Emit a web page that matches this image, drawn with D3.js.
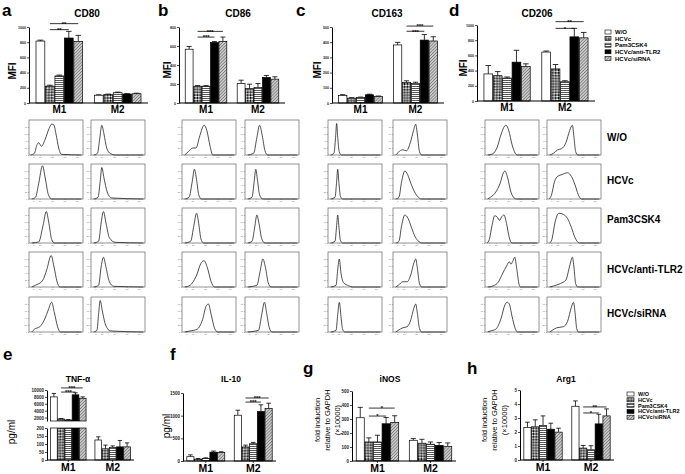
<!DOCTYPE html>
<html><head><meta charset="utf-8">
<script src="https://cdn.jsdelivr.net/npm/d3@7"></script>
<style>
body{margin:0;background:#fff}
svg{display:block;font-family:"Liberation Sans",Arial,Helvetica,sans-serif}
</style></head><body>
<svg id="fig" width="685" height="474"></svg>
<script>
// ---------------- DATA ----------------
const groups = ["M1","M2"];
const series = ["W/O","HCVc","Pam3CSK4","HCVc/anti-TLR2","HCVc/siRNA"];

const cd80Mean = [[815,222,356,855,810],[102,110,135,118,122]];
const cd80Sd   = [[12,12,11,88,80],[6,7,8,6,7]];
const cd80Ticks = [0,200,400,600,800,1000];
const cd80Sig = [[0,1,3,965,"**"],[0,1,4,1044,"**"]];

const cd86Mean = [[566,177,177,637,648],[205,152,163,269,251]];
const cd86Sd   = [[29,6,6,10,46],[35,46,42,21,25]];
const cd86Ticks = [0,200,400,600,800];
const cd86Sig = [[0,1,3,694,"***"],[0,1,4,754,"***"]];

const cd163Mean = [[49,32,36,54,43],[382,135,129,414,408]];
const cd163Sd   = [[6,3,3,4,3],[17,11,8,36,28]];
const cd163Ticks = [0,100,200,300,400,500];
const cd163Sig = [[1,1,3,472,"***"],[1,1,4,506,"***"]];

const cd206Mean = [[356,333,302,511,453],[644,422,253,844,831]];
const cd206Sd   = [[111,54,14,156,36],[14,58,14,112,71]];
const cd206Ticks = [0,200,400,600,800,1000];
const cd206Sig = [[1,1,3,956,"*"],[1,1,4,1044,"**"]];

const tnfMean = [[8000,1600,1300,8600,7600],[125,70,78,82,82]];
const tnfSd   = [[1000,100,100,600,400],[20,23,10,40,25]];
const tnfTicksLow  = [0,50,100,150,200];
const tnfTicksHigh = [2000,4000,6000,8000,10000];
const tnfSig = [[0,1,3,9400,"***"],[0,1,4,10600,"***"]];

const il10Mean = [[95,40,55,195,190],[1010,310,380,1090,1160]];
const il10Sd   = [[40,15,15,25,15],[110,40,30,150,115]];
const il10Ticks = [0,500,1000,1500];
const il10Sig = [[1,1,3,1300,"***"],[1,1,4,1390,"***"]];

const inosMean = [[309,136,136,266,275],[148,127,120,112,105]];
const inosSd   = [[74,29,48,45,48],[12,28,16,20,24]];
const inosTicks = [0,100,200,300,400,500];
const inosSig = [[0,1,3,321,"*"],[0,1,4,378,"*"]];

const arg1Mean = [[2.32,2.37,2.46,2.2,1.99],[3.84,0.85,0.73,2.58,3.15]];
const arg1Sd   = [[0.38,0.5,0.69,0.43,0.28],[0.38,0.19,0.29,0.69,0.5]];
const arg1Ticks = [0,1,2,3,4,5];
const arg1Sig = [[1,1,3,3.36,"*"],[1,1,4,3.79,"**"]];

// flow histograms: [x fraction, y fraction] vertices, rows = treatments, pairs = [M1, M2]
const histCD80 = [
 [[[0.03,0],[0.1,0.05],[0.15,0.3],[0.18,0.35],[0.23,0.25],[0.3,0.45],[0.37,0.75],[0.42,0.88],[0.46,0.86],[0.5,0.6],[0.55,0.2],[0.6,0.02],[0.97,0]],
  [[0.05,0],[0.12,0.05],[0.16,0.45],[0.2,0.85],[0.24,0.6],[0.29,0.2],[0.36,0.04],[0.45,0],[0.97,0]]],
 [[[0.05,0],[0.12,0.05],[0.18,0.45],[0.25,0.95],[0.3,0.6],[0.36,0.12],[0.42,0],[0.97,0]],
  [[0.05,0],[0.13,0.05],[0.17,0.5],[0.2,0.9],[0.24,0.6],[0.3,0.2],[0.38,0.03],[0.97,0]]],
 [[[0.05,0],[0.18,0.03],[0.26,0.5],[0.32,0.9],[0.37,0.55],[0.42,0.1],[0.47,0],[0.97,0]],
  [[0.05,0],[0.14,0.05],[0.19,0.6],[0.23,0.9],[0.28,0.55],[0.34,0.15],[0.45,0.02],[0.97,0]]],
 [[[0.05,0],[0.12,0.05],[0.25,0.18],[0.33,0.5],[0.41,0.9],[0.46,0.6],[0.52,0.15],[0.57,0],[0.97,0]],
  [[0.05,0],[0.14,0.05],[0.19,0.6],[0.23,0.85],[0.28,0.55],[0.34,0.15],[0.42,0.02],[0.97,0]]],
 [[[0.05,0],[0.1,0.08],[0.2,0.15],[0.3,0.4],[0.35,0.6],[0.42,0.85],[0.47,0.55],[0.53,0.15],[0.58,0],[0.97,0]],
  [[0.05,0],[0.11,0.05],[0.14,0.5],[0.17,0.9],[0.21,0.6],[0.27,0.2],[0.36,0.03],[0.97,0]]]
];
const histCD86 = [
 [[[0.05,0],[0.12,0.1],[0.2,0.2],[0.26,0.2],[0.33,0.55],[0.41,0.85],[0.46,0.7],[0.52,0.25],[0.57,0],[0.97,0]],
  [[0.05,0],[0.16,0.05],[0.22,0.5],[0.27,0.85],[0.32,0.55],[0.37,0.12],[0.42,0],[0.97,0]]],
 [[[0.05,0],[0.13,0.05],[0.19,0.5],[0.23,0.85],[0.27,0.55],[0.31,0.12],[0.36,0],[0.97,0]],
  [[0.05,0],[0.13,0.05],[0.17,0.5],[0.2,0.85],[0.23,0.55],[0.27,0.12],[0.33,0],[0.97,0]]],
 [[[0.05,0],[0.16,0.05],[0.22,0.5],[0.27,0.85],[0.31,0.55],[0.35,0.12],[0.4,0],[0.97,0]],
  [[0.05,0],[0.13,0.05],[0.18,0.45],[0.22,0.8],[0.26,0.55],[0.31,0.12],[0.37,0],[0.97,0]]],
 [[[0.05,0],[0.15,0.05],[0.26,0.3],[0.36,0.7],[0.41,0.75],[0.47,0.55],[0.54,0.15],[0.6,0],[0.97,0]],
  [[0.05,0],[0.22,0.05],[0.28,0.45],[0.33,0.8],[0.38,0.55],[0.43,0.12],[0.48,0],[0.97,0]]],
 [[[0.05,0],[0.15,0.03],[0.28,0.08],[0.38,0.35],[0.45,0.75],[0.49,0.8],[0.54,0.5],[0.6,0.12],[0.66,0],[0.97,0]],
  [[0.05,0],[0.25,0.05],[0.31,0.5],[0.36,0.85],[0.4,0.55],[0.45,0.12],[0.5,0],[0.97,0]]]
];
const histCD163 = [
 [[[0.05,0],[0.11,0.05],[0.14,0.5],[0.16,0.9],[0.18,0.5],[0.21,0.08],[0.25,0],[0.97,0]],
  [[0.05,0],[0.1,0.08],[0.18,0.15],[0.25,0.12],[0.32,0.35],[0.38,0.7],[0.42,0.88],[0.45,0.6],[0.49,0.1],[0.53,0],[0.97,0]]],
 [[[0.05,0],[0.13,0.05],[0.16,0.5],[0.18,0.85],[0.2,0.5],[0.23,0.08],[0.27,0],[0.97,0]],
  [[0.05,0],[0.11,0.05],[0.16,0.5],[0.22,0.8],[0.27,0.7],[0.33,0.45],[0.4,0.2],[0.47,0.05],[0.52,0],[0.97,0]]],
 [[[0.05,0],[0.13,0.05],[0.16,0.5],[0.18,0.8],[0.2,0.5],[0.23,0.08],[0.27,0],[0.97,0]],
  [[0.05,0],[0.11,0.05],[0.16,0.5],[0.22,0.8],[0.28,0.7],[0.34,0.45],[0.41,0.18],[0.48,0.04],[0.53,0],[0.97,0]]],
 [[[0.05,0],[0.15,0.05],[0.18,0.5],[0.21,0.8],[0.24,0.4],[0.29,0.12],[0.38,0.04],[0.46,0],[0.97,0]],
  [[0.05,0],[0.1,0.05],[0.18,0.15],[0.26,0.15],[0.33,0.35],[0.38,0.65],[0.42,0.8],[0.45,0.55],[0.49,0.1],[0.53,0],[0.97,0]]],
 [[[0.05,0],[0.15,0.05],[0.18,0.5],[0.21,0.85],[0.24,0.45],[0.27,0.08],[0.31,0],[0.97,0]],
  [[0.05,0],[0.1,0.05],[0.18,0.12],[0.26,0.15],[0.33,0.35],[0.38,0.65],[0.42,0.8],[0.45,0.55],[0.49,0.1],[0.53,0],[0.97,0]]]
];
const histCD206 = [
 [[[0.05,0],[0.14,0.03],[0.22,0.2],[0.3,0.6],[0.36,0.82],[0.39,0.85],[0.44,0.7],[0.5,0.3],[0.56,0.05],[0.6,0],[0.97,0]],
  [[0.05,0],[0.12,0.05],[0.2,0.15],[0.27,0.18],[0.35,0.35],[0.42,0.7],[0.47,0.85],[0.5,0.5],[0.53,0.1],[0.57,0],[0.97,0]]],
 [[[0.05,0],[0.1,0.05],[0.2,0.2],[0.28,0.45],[0.34,0.75],[0.37,0.8],[0.42,0.6],[0.48,0.2],[0.54,0.03],[0.58,0],[0.97,0]],
  [[0.04,0],[0.08,0.1],[0.14,0.5],[0.2,0.65],[0.28,0.7],[0.38,0.75],[0.45,0.65],[0.52,0.4],[0.58,0.12],[0.64,0],[0.97,0]]],
 [[[0.04,0],[0.08,0.1],[0.13,0.5],[0.18,0.78],[0.22,0.75],[0.27,0.65],[0.31,0.75],[0.35,0.8],[0.4,0.55],[0.45,0.15],[0.5,0],[0.97,0]],
  [[0.05,0],[0.09,0.1],[0.15,0.6],[0.22,0.85],[0.3,0.82],[0.38,0.7],[0.45,0.45],[0.52,0.15],[0.6,0],[0.97,0]]],
 [[[0.05,0],[0.15,0.03],[0.25,0.15],[0.33,0.4],[0.4,0.6],[0.45,0.72],[0.48,0.65],[0.51,0.72],[0.55,0.85],[0.59,0.5],[0.63,0.08],[0.66,0],[0.97,0]],
  [[0.05,0],[0.12,0.03],[0.25,0.1],[0.35,0.2],[0.42,0.6],[0.47,0.85],[0.5,0.55],[0.53,0.1],[0.57,0],[0.97,0]]],
 [[[0.05,0],[0.1,0.03],[0.2,0.08],[0.3,0.4],[0.37,0.78],[0.41,0.85],[0.45,0.8],[0.5,0.45],[0.56,0.1],[0.6,0],[0.97,0]],
  [[0.05,0],[0.1,0.05],[0.18,0.12],[0.3,0.15],[0.38,0.3],[0.45,0.7],[0.49,0.85],[0.52,0.55],[0.55,0.1],[0.58,0],[0.97,0]]]
];
const histXTickVals = [0.08,0.2,0.43,0.66,0.89];
const histXTickLabels = ["0","10¹","10²","10³","10⁴"];
const histYTickVals = [0,0.2,0.4,0.6,0.8];
const histYTickLabels = ["0","20","40","60","80"];

// ---------------- DRAWING ----------------
const svg = d3.select("#fig");
const defs = svg.append("defs");
{
  const p1 = defs.append("pattern").attr("id","pChk").attr("patternUnits","userSpaceOnUse")
    .attr("width",2.2).attr("height",2.2).attr("patternTransform","rotate(45)");
  p1.append("rect").attr("width",2.2).attr("height",2.2).attr("fill","#fff");
  p1.append("rect").attr("width",1.1).attr("height",1.1).attr("fill","#000");
  p1.append("rect").attr("x",1.1).attr("y",1.1).attr("width",1.1).attr("height",1.1).attr("fill","#000");
  const p2 = defs.append("pattern").attr("id","pHor").attr("patternUnits","userSpaceOnUse")
    .attr("width",4).attr("height",2);
  p2.append("rect").attr("width",4).attr("height",2).attr("fill","#fff");
  p2.append("rect").attr("y",0).attr("width",4).attr("height",0.9).attr("fill","#444");
  const p3 = defs.append("pattern").attr("id","pDiag").attr("patternUnits","userSpaceOnUse")
    .attr("width",2.2).attr("height",4).attr("patternTransform","rotate(45)");
  p3.append("rect").attr("width",2.2).attr("height",4).attr("fill","#cfcfcf");
  p3.append("rect").attr("width",0.8).attr("height",4).attr("fill","#7a7a7a");
}
const fills = ["#fff","url(#pChk)","url(#pHor)","#000","url(#pDiag)"];
const intFmt = d3.format("d");

function txt(x,y,s,size,opts={}){
  const t = svg.append("text").attr("x",x).attr("y",y).text(s)
    .attr("font-size",size).attr("font-weight",opts.weight||"bold")
    .attr("text-anchor",opts.anchor||"middle").attr("fill","#000");
  if(opts.rot) t.attr("transform",`rotate(-90,${x},${y})`);
  return t;
}

function styleAxis(sel,size){
  sel.selectAll("text").attr("font-size",size).attr("font-weight","bold").attr("fill","#222");
  sel.selectAll("line").attr("stroke","#000").attr("stroke-width",0.7);
  sel.select(".domain").attr("stroke","#000").attr("stroke-width",1);
}

function barPanel(cfg){
  const y = d3.scaleLinear().domain([0,cfg.ticks[cfg.ticks.length-1]]).range([cfg.yb,cfg.yt]);
  const xg = d3.scaleBand().domain(groups).range([cfg.x0,cfg.x1]).paddingInner(cfg.pi).paddingOuter(cfg.po);
  const xs = d3.scaleBand().domain(series).range([0,xg.bandwidth()]).paddingInner(0.07);
  const g = svg.append("g");
  groups.forEach((grp,gi)=>{
    series.forEach((s,si)=>{
      const v = cfg.mean[gi][si], e = cfg.sd[gi][si];
      const bx = xg(grp)+xs(s), bw = xs.bandwidth(), cx = bx+bw/2;
      g.append("line").attr("x1",cx).attr("x2",cx).attr("y1",y(v)).attr("y2",y(v+e)).attr("stroke","#000").attr("stroke-width",0.8);
      g.append("line").attr("x1",cx-bw*0.32).attr("x2",cx+bw*0.32).attr("y1",y(v+e)).attr("y2",y(v+e)).attr("stroke","#000").attr("stroke-width",0.8);
      g.append("rect").attr("x",bx).attr("y",y(v)).attr("width",bw).attr("height",y(0)-y(v))
        .attr("fill",fills[si]).attr("stroke","#000").attr("stroke-width",0.7);
    });
  });
  const ax = g.append("g").attr("transform",`translate(${cfg.x0},0)`)
    .call(d3.axisLeft(y).tickValues(cfg.ticks).tickFormat(cfg.fmt||intFmt).tickSize(2).tickSizeOuter(0).tickPadding(1));
  styleAxis(ax,cfg.tickFont);
  xAxis(g,cfg,xg,y(0));
  sig(g,cfg.sig,xg,xs,y);
}

function xAxis(g,cfg,xg,y0){
  g.append("line").attr("x1",cfg.x0).attr("x2",cfg.x1).attr("y1",y0).attr("y2",y0).attr("stroke","#000").attr("stroke-width",1);
  groups.forEach(grp=>{
    const c = xg(grp)+xg.bandwidth()/2;
    g.append("line").attr("x1",c).attr("x2",c).attr("y1",y0).attr("y2",y0+2).attr("stroke","#000").attr("stroke-width",0.7);
    txt(c,y0+cfg.labDy,grp,cfg.labFont);
  });
}

function sig(g,list,xg,xs,y){
  list.forEach(([gi,a,b,h,label])=>{
    const xa = xg(groups[gi])+xs(series[a])+xs.bandwidth()/2;
    const xb = xg(groups[gi])+xs(series[b])+xs.bandwidth()/2;
    g.append("line").attr("x1",xa).attr("x2",xb).attr("y1",y(h)).attr("y2",y(h)).attr("stroke","#000").attr("stroke-width",0.8);
    txt((xa+xb)/2,y(h)+2.3,label,5.8);
  });
}

// top row
const topCommon = {pi:0.2,po:0.12,tickFont:3.6,labDy:9.5,labFont:10};
barPanel({...topCommon,mean:cd80Mean,sd:cd80Sd,ticks:cd80Ticks,sig:cd80Sig,x0:29,x1:148,yb:103,yt:27});
barPanel({...topCommon,mean:cd86Mean,sd:cd86Sd,ticks:cd86Ticks,sig:cd86Sig,x0:179,x1:285,yb:103,yt:27});
barPanel({...topCommon,mean:cd163Mean,sd:cd163Sd,ticks:cd163Ticks,sig:cd163Sig,x0:332,x1:444,yb:103,yt:27});
barPanel({...topCommon,mean:cd206Mean,sd:cd206Sd,ticks:cd206Ticks,sig:cd206Sig,x0:477,x1:595,yb:101,yt:25});

txt(2,16,"a",17,{anchor:"start"}); txt(158,16,"b",17,{anchor:"start"});
txt(296,16,"c",17,{anchor:"start"}); txt(449,16,"d",17,{anchor:"start"});
txt(87,17,"CD80",10); txt(238,17,"CD86",10); txt(387,17,"CD163",10); txt(537,17,"CD206",10);
[[16,71],[171,70],[321,70],[467,68]].forEach(([x,yy])=>txt(x,yy,"MFI",10,{rot:true}));

function legend(x,y0,dy,size,sw,sh){
  series.forEach((s,i)=>{
    const yy = y0+i*dy;
    svg.append("rect").attr("x",x).attr("y",yy-sh/2).attr("width",sw).attr("height",sh)
      .attr("fill",fills[i]).attr("stroke","#000").attr("stroke-width",0.6);
    txt(x+sw+4,yy+size*0.36,s,size,{anchor:"start"});
  });
}
legend(605,32,6.6,6,6,4);

// histograms
const histColX = [[29,91],[182,245],[328,393],[485,547]];
const histRowY = [120,164,208,252,297];
const histW = 54, histH = 35;
const histSets = [histCD80,histCD86,histCD163,histCD206];
histSets.forEach((set,col)=>{
  set.forEach((pair,row)=>{
    pair.forEach((pts,side)=>{
      const bx = histColX[col][side], by = histRowY[row];
      const hx = d3.scaleLinear().domain([0,1]).range([bx,bx+histW]);
      const hy = d3.scaleLinear().domain([0,1]).range([by+histH,by]);
      const g = svg.append("g");
      g.append("rect").attr("x",bx).attr("y",by).attr("width",histW).attr("height",histH)
        .attr("fill","none").attr("stroke","#666").attr("stroke-width",0.7);
      const ay = g.append("g").attr("transform",`translate(${bx},0)`)
        .call(d3.axisLeft(hy).tickValues(histYTickVals).tickFormat((d,i)=>histYTickLabels[i]).tickSize(1).tickPadding(0.8));
      const axb = g.append("g").attr("transform",`translate(0,${by+histH})`)
        .call(d3.axisBottom(hx).tickValues(histXTickVals).tickFormat((d,i)=>histXTickLabels[i]).tickSize(1).tickPadding(0.8));
      [ay,axb].forEach(a=>{
        a.select(".domain").remove();
        a.selectAll("line").attr("stroke","#777").attr("stroke-width",0.5);
        a.selectAll("text").attr("font-size",2.2).attr("fill","#666");
      });
      g.append("path").datum(pts)
        .attr("d",d3.line().x(d=>hx(d[0])).y(d=>hy(d[1])).curve(d3.curveMonotoneX))
        .attr("fill","none").attr("stroke","#222").attr("stroke-width",0.8);
    });
  });
});
const rowLabY = [141,184,223,273,317];
["W/O","HCVc","Pam3CSK4","HCVc/anti-TLR2","HCVc/siRNA"].forEach((s,i)=>txt(607,rowLabY[i],s,10,{anchor:"start"}));

// bottom row
const botCommon = {pi:0.2,po:0.08,tickFont:4.5,labDy:11,labFont:10.5};
// e: broken axis TNF-a
{
  const cfg = {...botCommon,x0:47,x1:134};
  const yLow = d3.scaleLinear().domain([0,200]).range([460,428]);
  const yHigh = d3.scaleLinear().domain([1000,10000]).range([421,390]);
  const xg = d3.scaleBand().domain(groups).range([cfg.x0,cfg.x1]).paddingInner(cfg.pi).paddingOuter(cfg.po);
  const xs = d3.scaleBand().domain(series).range([0,xg.bandwidth()]).paddingInner(0.07);
  const g = svg.append("g");
  groups.forEach((grp,gi)=>{
    series.forEach((s,si)=>{
      const v = tnfMean[gi][si], e = tnfSd[gi][si];
      const bx = xg(grp)+xs(s), bw = xs.bandwidth(), cx = bx+bw/2;
      const ys = v>1000 ? yHigh : yLow;
      g.append("line").attr("x1",cx).attr("x2",cx).attr("y1",ys(v)).attr("y2",ys(v+e)).attr("stroke","#000").attr("stroke-width",0.8);
      g.append("line").attr("x1",cx-bw*0.32).attr("x2",cx+bw*0.32).attr("y1",ys(v+e)).attr("y2",ys(v+e)).attr("stroke","#000").attr("stroke-width",0.8);
      const vl = Math.min(v,200);
      g.append("rect").attr("x",bx).attr("y",yLow(vl)).attr("width",bw).attr("height",yLow(0)-yLow(vl))
        .attr("fill",fills[si]).attr("stroke","#000").attr("stroke-width",0.7);
      if(v>1000){
        g.append("rect").attr("x",bx).attr("y",yHigh(v)).attr("width",bw).attr("height",yHigh(1000)-yHigh(v))
          .attr("fill",fills[si]).attr("stroke","#000").attr("stroke-width",0.7);
      }
    });
  });
  const a1 = g.append("g").attr("transform",`translate(${cfg.x0},0)`)
    .call(d3.axisLeft(yLow).tickValues(tnfTicksLow).tickFormat(intFmt).tickSize(2).tickSizeOuter(0).tickPadding(1));
  const a2 = g.append("g").attr("transform",`translate(${cfg.x0},0)`)
    .call(d3.axisLeft(yHigh).tickValues(tnfTicksHigh).tickFormat(intFmt).tickSize(2).tickSizeOuter(0).tickPadding(1));
  styleAxis(a1,cfg.tickFont); styleAxis(a2,cfg.tickFont);
  xAxis(g,cfg,xg,yLow(0));
  sig(g,tnfSig,xg,xs,yHigh);
}
barPanel({...botCommon,mean:il10Mean,sd:il10Sd,ticks:il10Ticks,sig:il10Sig,x0:183,x1:276,yb:461,yt:393});
barPanel({...botCommon,mean:inosMean,sd:inosSd,ticks:inosTicks,sig:inosSig,x0:352,x1:456,yb:461,yt:391});
barPanel({...botCommon,mean:arg1Mean,sd:arg1Sd,ticks:arg1Ticks,sig:arg1Sig,x0:520,x1:614,yb:460,yt:390});

txt(3,360,"e",17,{anchor:"start"}); txt(170,360,"f",17,{anchor:"start"});
txt(303,374,"g",17,{anchor:"start"}); txt(467,374,"h",17,{anchor:"start"});
txt(78,382,"TNF-α",8.5); txt(231,382,"IL-10",8.5); txt(390,382,"iNOS",8.5); txt(566,382,"Arg1",8.5);
txt(15,432,"pg/ml",10,{rot:true,weight:"normal"});
txt(170,426,"pg/ml",10,{rot:true,weight:"normal"});
[["fold induction",320],["relative to GAPDH",330],["(×10000)",340]].forEach(([s,x])=>txt(x,420,s,7.5,{rot:true,weight:"normal"}));
[["fold induction",487],["relative to GAPDH",497],["(×10000)",507]].forEach(([s,x])=>txt(x,420,s,7.5,{rot:true,weight:"normal"}));
legend(627,394,5.8,5.5,7,4);
</script>
</body></html>
